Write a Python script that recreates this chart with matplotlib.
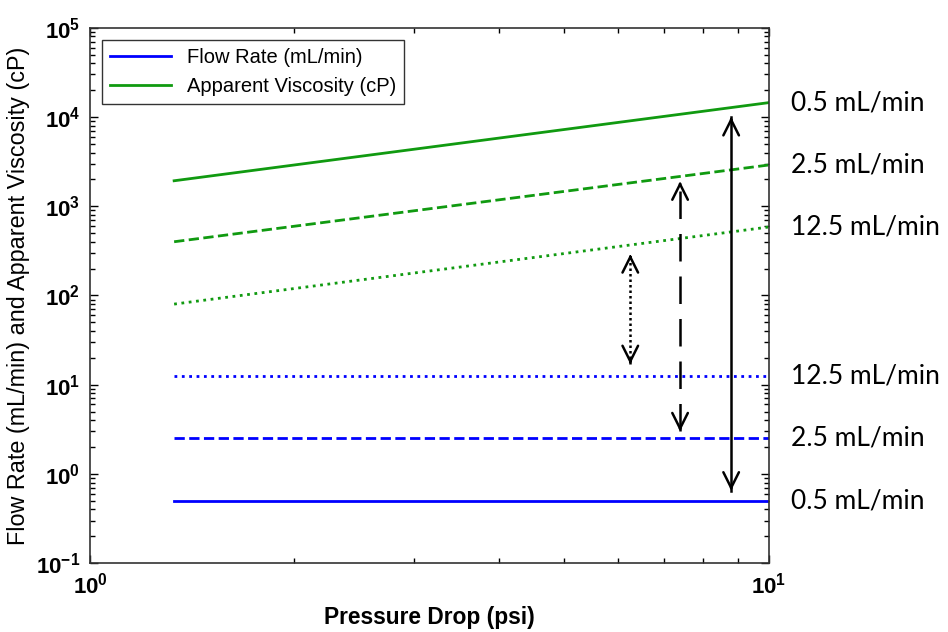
import matplotlib.pyplot as plt
from matplotlib.ticker import LogLocator, NullFormatter

plt.rcParams['mathtext.default'] = 'regular'
plt.rcParams['font.family'] = 'Liberation Sans'

# pressure drop range covered by the measurements (psi)
pressure = [1.33, 10.0]

# flow rates (mL/min) and matching apparent viscosity endpoints (cP)
flow_rates = [0.5, 2.5, 12.5]
flow_labels = ['0.5 mL/min', '2.5 mL/min', '12.5 mL/min']
viscosity = {
    0.5: [1930, 14500],
    2.5: [400, 2900],
    12.5: [80, 585],
}
styles = ['-', '--', ':']

# double arrows: x position, top (viscosity), bottom (flow rate)
arrow_x = [8.8, 7.4, 6.25]
arrow_top = [10000, 1900, 290]
arrow_bottom = [0.65, 3.0, 17.0]

blue = '#0000ff'
green = '#109a10'

fig = plt.figure(figsize=(9.48, 6.32), dpi=100)
ax = fig.add_axes([0.095, 0.109, 0.716, 0.847])

for q, ls in zip(flow_rates, styles):
    ax.plot(pressure, [q, q], color=blue, ls=ls, lw=2,
            label='Flow Rate (mL/min)' if ls == '-' else None)
for q, ls in zip(flow_rates, styles):
    ax.plot(pressure, viscosity[q], color=green, ls=ls, lw=2,
            label='Apparent Viscosity (cP)' if ls == '-' else None)

# arrow shafts keep their line style, heads are always solid
arrow_ls = ['-', (0, (11, 6)), (0, (1, 1.2))]
for x, top, bot, ls in zip(arrow_x, arrow_top, arrow_bottom, arrow_ls):
    ax.plot([x, x], [bot, top], color='black', lw=1.8, ls=ls)
    for tip, tail in ((top, top * 0.9), (bot, bot / 0.9)):
        ax.annotate('', xy=(x, tip), xytext=(x, tail),
                    arrowprops=dict(arrowstyle='->', color='black', lw=1.8,
                                    mutation_scale=28, shrinkA=0, shrinkB=0))

ax.set_xscale('log')
ax.set_yscale('log')
ax.set_xlim(1, 10)
ax.set_ylim(0.1, 1e5)

ax.xaxis.set_major_locator(LogLocator(base=10, numticks=3))
ax.yaxis.set_major_locator(LogLocator(base=10, numticks=10))
ax.yaxis.set_minor_locator(LogLocator(base=10, subs=range(2, 10), numticks=10))
ax.yaxis.set_minor_formatter(NullFormatter())
ax.xaxis.set_minor_formatter(NullFormatter())

ax.tick_params(which='both', direction='in', top=True, right=True)
ax.tick_params(which='major', length=6, width=1, labelsize=16)
ax.tick_params(which='minor', length=3.5, width=1)
ax.tick_params(axis='y', pad=7)
ax.tick_params(axis='x', pad=7)
fig.canvas.draw()
for lab in ax.get_xticklabels() + ax.get_yticklabels():
    lab.set_fontweight('bold')
for sp in ax.spines.values():
    sp.set_linewidth(1.2)
    sp.set_color('#333333')

ax.set_xlabel('Pressure Drop (psi)', fontsize=16.4, fontweight='bold', labelpad=5)
ax.set_ylabel('Flow Rate (mL/min) and Apparent Viscosity (cP)', fontsize=16.8,
              labelpad=4)

leg = ax.legend(loc='upper left', frameon=True, fancybox=False,
                borderaxespad=0.6, handlelength=3.0,
                prop={'family': 'Liberation Sans', 'size': 14.5})
leg.get_frame().set_edgecolor('black')
leg.get_frame().set_linewidth(1)

# flow-rate annotations to the right of the axes
label_vals = [viscosity[0.5][1], viscosity[2.5][1], viscosity[12.5][1], 12.5, 2.5, 0.5]
label_txt = flow_labels + flow_labels[::-1]
for v, t in zip(label_vals, label_txt):
    ax.annotate(t, xy=(10, v), xytext=(16, 0), textcoords='offset points',
                va='center', ha='left', fontsize=19, family='Lato',
                annotation_clip=False)

fig.savefig('out.png', dpi=100)
